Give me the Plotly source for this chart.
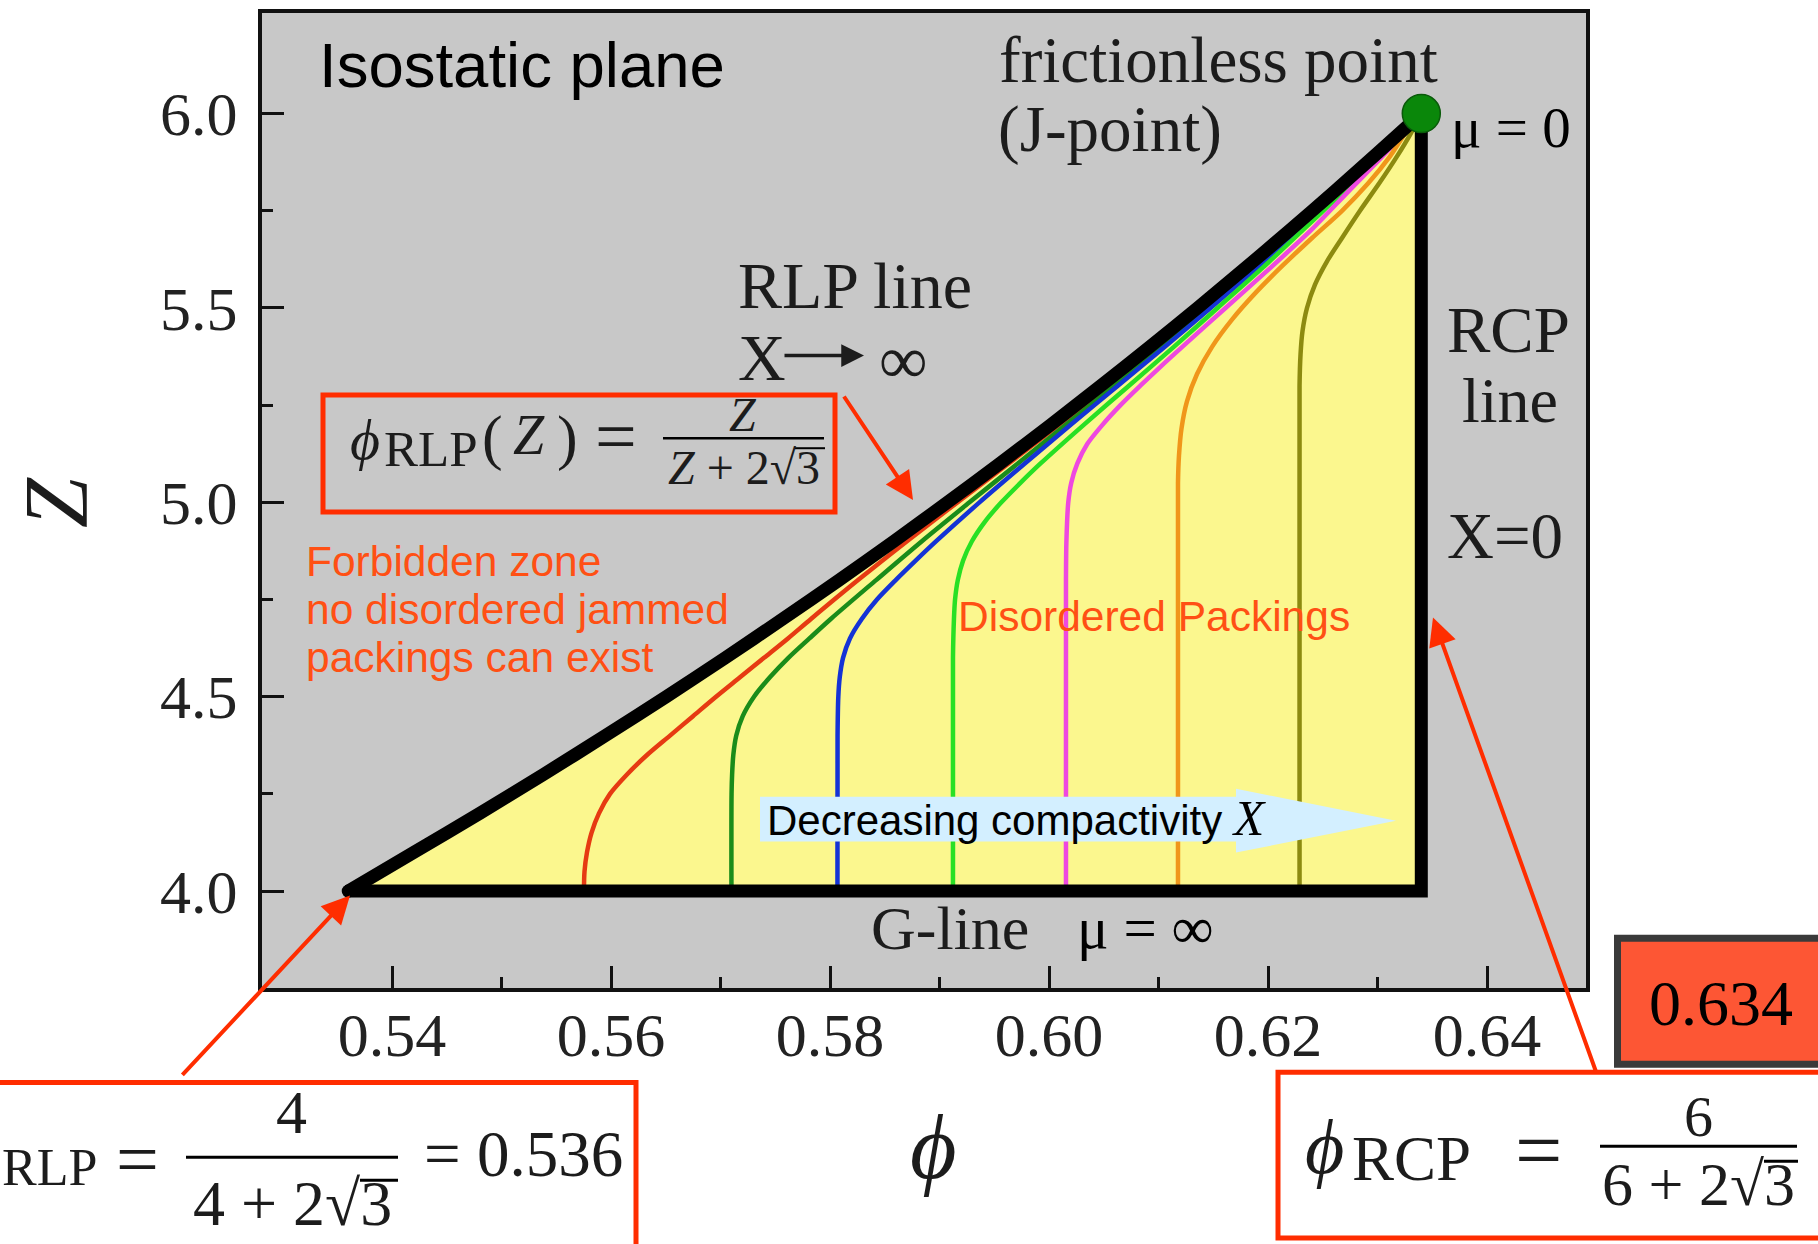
import plotly.graph_objects as go

# ---------------------------------------------------------------------------
# Isostatic plane: coordination number Z versus volume fraction phi
# ---------------------------------------------------------------------------
x_ticks = [0.54, 0.56, 0.58, 0.60, 0.62, 0.64]
x_minor_ticks = [0.55, 0.57, 0.59, 0.61, 0.63]
y_ticks = [4.0, 4.5, 5.0, 5.5, 6.0]
y_minor_ticks = [4.25, 4.75, 5.25, 5.75]

phi_rlp_g = 0.536   # phi_RLP at Z = 4  (4 / (4 + 2*sqrt(3)))
phi_rcp = 0.634     # phi_RCP           (6 / (6 + 2*sqrt(3)))
z_g = 4.0           # G-line, mu = infinity
z_j = 6.0           # frictionless J-point, mu = 0

# RLP line, phi = Z / (Z + 2 sqrt 3)
rlp_z = [4.0, 4.1, 4.2, 4.3, 4.4, 4.5, 4.6, 4.7, 4.8, 4.9, 5.0,
         5.1, 5.2, 5.3, 5.4, 5.5, 5.6, 5.7, 5.8, 5.9, 6.0]
rlp_phi = [0.536, 0.54203, 0.54801, 0.55383, 0.55950, 0.56504, 0.57043,
           0.57569, 0.58083, 0.58584, 0.59073, 0.59551, 0.60018, 0.60474,
           0.60920, 0.61356, 0.61782, 0.62199, 0.62607, 0.63007, 0.634]

# Iso-compactivity curves, from the most compactive (left) to X -> 0 (right)
red_z = [4.00, 4.05, 4.10, 4.15, 4.20, 4.25, 4.30, 4.35, 4.40, 4.45, 4.50,
         4.55, 4.60, 4.65, 4.70, 4.80, 4.90, 5.00, 5.20, 5.50, 5.80, 5.90,
         5.95, 6.00]
red_phi = [0.55753, 0.55758, 0.55781, 0.55822, 0.55890, 0.55991, 0.56146,
           0.56329, 0.56539, 0.56749, 0.56959, 0.57178, 0.57397, 0.57616,
           0.57826, 0.58256, 0.58703, 0.59164, 0.60096, 0.61425, 0.62648,
           0.63030, 0.63222, 0.63400]

dkgreen_z = [4.00, 4.25, 4.30, 4.35, 4.40, 4.45, 4.50, 4.55, 4.60, 4.65,
             4.70, 4.80, 4.90, 5.00, 5.10, 5.20, 5.30, 5.40, 5.50, 5.60,
             5.70, 5.80, 5.90, 5.95, 6.00]
dkgreen_phi = [0.57100, 0.57101, 0.57106, 0.57117, 0.57144, 0.57203,
               0.57306, 0.57451, 0.57620, 0.57812, 0.58007, 0.58421,
               0.58839, 0.59274, 0.59715, 0.60155, 0.60593, 0.61030,
               0.61452, 0.61869, 0.62268, 0.62662, 0.63044, 0.63224,
               0.63400]

blue_z = [4.00, 4.40, 4.50, 4.55, 4.60, 4.65, 4.70, 4.75, 4.80, 4.85, 4.90,
          5.00, 5.10, 5.20, 5.30, 5.40, 5.50, 5.60, 5.70, 5.80, 5.90, 5.95,
          6.00]
blue_phi = [0.58068, 0.58069, 0.58076, 0.58089, 0.58119, 0.58182, 0.58290,
            0.58429, 0.58600, 0.58782, 0.58970, 0.59365, 0.59779, 0.60201,
            0.60629, 0.61058, 0.61475, 0.61887, 0.62281, 0.62671, 0.63053,
            0.63228, 0.63400]

green_z = [4.00, 4.60, 4.70, 4.75, 4.80, 4.85, 4.90, 4.95, 5.00, 5.05, 5.10,
           5.20, 5.30, 5.40, 5.50, 5.60, 5.70, 5.80, 5.90, 5.95, 6.00]
green_phi = [0.59123, 0.59123, 0.59132, 0.59142, 0.59167, 0.59215, 0.59296,
             0.59414, 0.59565, 0.59739, 0.59923, 0.60320, 0.60730, 0.61140,
             0.61539, 0.61937, 0.62318, 0.62690, 0.63067, 0.63237, 0.63400]

magenta_z = [4.00, 4.80, 4.90, 5.00, 5.05, 5.10, 5.15, 5.20, 5.25, 5.30,
             5.35, 5.40, 5.50, 5.60, 5.70, 5.80, 5.90, 5.95, 6.00]
magenta_phi = [0.60155, 0.60155, 0.60159, 0.60176, 0.60203, 0.60259,
               0.60349, 0.60490, 0.60653, 0.60834, 0.61022, 0.61217,
               0.61612, 0.62009, 0.62393, 0.62735, 0.63080, 0.63242,
               0.63400]

orange_z = [4.00, 5.05, 5.12, 5.19, 5.26, 5.33, 5.40, 5.47, 5.54, 5.61,
            5.68, 5.75, 5.82, 5.89, 5.96, 6.00]
orange_phi = [0.61178, 0.61178, 0.61187, 0.61210, 0.61260, 0.61352, 0.61489,
              0.61671, 0.61890, 0.62137, 0.62402, 0.62676, 0.62913, 0.63114,
              0.63279, 0.63400]

olive_z = [4.00, 5.30, 5.38, 5.44, 5.50, 5.56, 5.62, 5.68, 5.75, 5.82, 5.89,
           5.95, 6.00]
olive_phi = [0.62288, 0.62288, 0.62297, 0.62315, 0.62356, 0.62429, 0.62539,
             0.62676, 0.62840, 0.63014, 0.63178, 0.63306, 0.63400]

curves = [
    (red_phi, red_z, "#e63a12"),
    (dkgreen_phi, dkgreen_z, "#1a8c1a"),
    (blue_phi, blue_z, "#1433d6"),
    (green_phi, green_z, "#28e024"),
    (magenta_phi, magenta_z, "#ee48e0"),
    (orange_phi, orange_z, "#f0961a"),
    (olive_phi, olive_z, "#8c8a10"),
]

# ---------------------------------------------------------------------------
# Page geometry (pixels) and helpers for layout-placed items
# ---------------------------------------------------------------------------
W, H = 1818, 1244
L, R, T, B = 262, 1586, 9, 988


def xp(px):
    return (px - L) / (R - L)


def yp(py):
    return (B - py) / (B - T)


SERIF = "Liberation Serif, Times New Roman, DejaVu Serif, serif"
SANS = "Liberation Sans, Arial, sans-serif"
RED = "#ff2d00"
ORANGE_TXT = "#ff5014"
INK = "#1c1c1c"

fig = go.Figure()

# yellow region of disordered packings
fig.add_trace(go.Scatter(
    x=rlp_phi + [phi_rcp, phi_rlp_g], y=rlp_z + [z_g, z_g],
    mode="lines", fill="toself", fillcolor="#fbf78e",
    line=dict(width=0), hoverinfo="skip", showlegend=False))

for cx, cz, col in curves:
    fig.add_trace(go.Scatter(
        x=cx, y=cz, mode="lines",
        line=dict(color=col, width=4.5, shape="spline", smoothing=0.8),
        hoverinfo="skip", showlegend=False))

# G-line and RCP line
fig.add_trace(go.Scatter(
    x=[phi_rlp_g, phi_rcp, phi_rcp], y=[z_g, z_g, z_j], mode="lines",
    line=dict(color="black", width=13), hoverinfo="skip", showlegend=False))
# RLP line
fig.add_trace(go.Scatter(
    x=rlp_phi, y=rlp_z, mode="lines",
    line=dict(color="black", width=13, shape="spline", smoothing=0.6),
    hoverinfo="skip", showlegend=False))
# rounded corner where RLP line meets the G-line
fig.add_trace(go.Scatter(
    x=[phi_rlp_g], y=[z_g], mode="markers",
    marker=dict(color="black", size=13), hoverinfo="skip", showlegend=False))
# J-point
fig.add_trace(go.Scatter(
    x=[phi_rcp], y=[z_j], mode="markers",
    marker=dict(color="#0a870a", size=38,
                line=dict(color="#0a5a0a", width=1.5)),
    hoverinfo="skip", showlegend=False))

axis_common = dict(
    ticks="inside", ticklen=22, tickwidth=3, tickcolor="#111",
    showline=True, linecolor="#111", linewidth=4, mirror=True,
    showgrid=False, zeroline=False,
    tickfont=dict(family=SERIF, size=62, color="#222"),
)

fig.update_layout(
    width=W, height=H, autosize=False,
    margin=dict(l=L, r=W - R, t=T, b=H - B, pad=0),
    paper_bgcolor="white", plot_bgcolor="#c8c8c8",
    showlegend=False,
    xaxis=dict(range=[0.528128, 0.649041], tickmode="array",
               tickvals=x_ticks, ticktext=[f"{v:.2f}" for v in x_ticks],
               minor=dict(tickmode="array", tickvals=x_minor_ticks,
                          ticks="inside", ticklen=11, tickwidth=3,
                          tickcolor="#111"),
               ticklabelstandoff=-10, **axis_common),
    yaxis=dict(range=[3.75074, 6.25874], tickmode="array",
               tickvals=y_ticks, ticktext=[f"{v:.1f}" for v in y_ticks],
               minor=dict(tickmode="array", tickvals=y_minor_ticks,
                          ticks="inside", ticklen=11, tickwidth=3,
                          tickcolor="#111"),
               ticklabelstandoff=8, **axis_common),
)


def label(text, x, y, size, color=INK, family=SERIF, xanchor="left",
          angle=0):
    fig.add_annotation(
        text=text, x=xp(x), y=yp(y), xref="paper", yref="paper",
        xanchor=xanchor, yanchor="middle", showarrow=False,
        textangle=angle, borderpad=0,
        font=dict(size=size, color=color, family=family))


def hline(x0, x1, y, width=3, color="black"):
    fig.add_shape(type="line", xref="paper", yref="paper",
                  x0=xp(x0), x1=xp(x1), y0=yp(y), y1=yp(y),
                  line=dict(color=color, width=width))


def box(x0, y0, x1, y1, color=RED, width=5, fill=None):
    fig.add_shape(type="rect", xref="paper", yref="paper",
                  x0=xp(x0), x1=xp(x1), y0=yp(y1), y1=yp(y0),
                  line=dict(color=color, width=width),
                  fillcolor=fill if fill else "rgba(0,0,0,0)")


def arrow(tip, tail, color=RED, width=4, size=1.4):
    fig.add_annotation(
        text="", x=xp(tip[0]), y=yp(tip[1]), xref="paper", yref="paper",
        ax=tail[0] - tip[0], ay=tail[1] - tip[1],
        axref="pixel", ayref="pixel", showarrow=True,
        arrowhead=2, arrowsize=size, arrowwidth=width, arrowcolor=color,
        standoff=0)


# axis titles
label("<i>Z</i>", 57, 501, 90, xanchor="center", angle=-90)
label("<i>ϕ</i>", 933, 1148, 90, xanchor="center")

# text inside the frame
label("Isostatic plane", 318, 61, 63.5, color="black", family=SANS)
label("frictionless point", 998, 56, 65)
label("(J-point)", 997, 125, 65)
label("μ = 0", 1450, 123.5, 57, color="black")
label("RLP line", 737, 283, 66)
label("X", 737, 354.5, 66)
arrow((864, 353), (783, 353), color=INK, width=3.5, size=1.3)
label("∞", 903, 357, 68, xanchor="center")
label("RCP", 1446, 327, 65)
label("line", 1461, 398, 64)
label("X=0", 1446, 534.5, 65)
label("G-line", 870, 928, 62)
label("μ = ∞", 1076, 928, 59, color="black")
label("Forbidden zone", 305, 559.5, 42.5, color=ORANGE_TXT, family=SANS)
label("no disordered jammed", 305, 607.5, 42.5, color=ORANGE_TXT,
      family=SANS)
label("packings can exist", 305, 656, 42.5, color=ORANGE_TXT, family=SANS)
label("Disordered Packings", 957, 615, 42.5, color=ORANGE_TXT, family=SANS)

# "Decreasing compactivity X" block arrow
arrow_pts = [(760, 796), (1236, 796), (1236, 788), (1396, 820),
             (1236, 852), (1236, 841), (760, 841)]
fig.add_shape(type="path", xref="paper", yref="paper",
              path="M " + " L ".join(f"{xp(a):.5f},{yp(b):.5f}"
                                     for a, b in arrow_pts) + " Z",
              fillcolor="#d3efff", line=dict(width=0))
label("Decreasing compactivity "
      "<span style='font-family:Liberation Serif;font-size:50px'><i>X</i></span>",
      766, 817, 42, color="black", family=SANS)

# phi_RLP(Z) formula box
box(323, 392.6, 835, 510)
label("<i>ϕ</i>", 364.5, 437, 58, xanchor="center")
label("RLP", 383, 447, 51)
label("(", 492, 435, 62, xanchor="center")
label("<i>Z</i>", 529, 433, 56, xanchor="center")
label(")", 567, 435, 62, xanchor="center")
label("=", 616, 434, 74, xanchor="center")
label("<i>Z</i>", 743, 412, 48, xanchor="center")
hline(663, 824, 436, width=2.5)
label("<i>Z</i> + 2√3", 744, 465, 48, xanchor="center")
hline(795, 825, 446, width=2)

# phi_RLP at the G-line
box(-10, 1083, 636, 1262)
label("RLP", 1, 1168, 52)
label("=", 137, 1160, 76, xanchor="center")
label("4", 291, 1113, 62, xanchor="center")
hline(186, 398, 1158, width=3)
label("4 + 2√3", 292, 1204, 64, xanchor="center")
hline(360, 398, 1181, width=3)
label("= 0.536", 423, 1155, 65)

# phi_RCP
box(1278, 1072.5, 1840, 1239)
label("<i>ϕ</i>", 1324.5, 1148, 76, xanchor="center")
label("RCP", 1351, 1160, 63)
label("=", 1538, 1151, 84, xanchor="center")
label("6", 1698, 1117, 58, xanchor="center")
hline(1600, 1797, 1147, width=3)
label("6 + 2√3", 1698, 1185, 62, xanchor="center")
hline(1764, 1798, 1162, width=3)

# 0.634 tag
box(1617.5, 938, 1840, 1064.5, color="#3a3a3a", width=7, fill="#fd5634")
label("0.634", 1721, 1004, 64, color="black", xanchor="center")

# pointer arrows
arrow((913, 498), (843, 393))
arrow((350, 895), (181, 1076))
arrow((1433, 616), (1597, 1073))

fig.write_html("out.html")
